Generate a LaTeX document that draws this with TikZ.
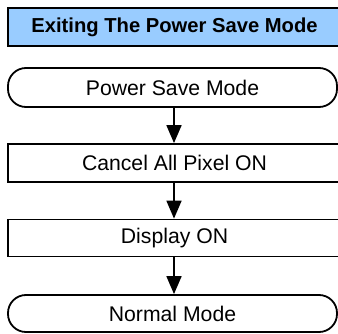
\documentclass[tikz,border=0pt]{standalone}
\usepackage{fontspec}
\setmainfont{Liberation Sans}
\usetikzlibrary{arrows.meta}
\definecolor{titleblue}{RGB}{153,204,255}
\tikzset{
  x=1pt,y=1pt,
  box/.style={draw=black,line width=1.8pt,fill=white,rectangle,inner sep=0pt,font=\fontsize{21.2}{25}\selectfont},
  term/.style={box,rounded corners=18pt},
  titlebox/.style={box,fill=titleblue,font=\fontsize{20.2}{24}\selectfont\bfseries},
  flow/.style={line width=1.8pt,-{Triangle[length=18pt,width=15pt]}}
}
\begin{document}
\begin{tikzpicture}
\useasboundingbox (0,0) rectangle (338,333);
\node[titlebox,minimum width=333pt,minimum height=38pt] (t) at (174.5,306) {Exiting The Power Save Mode};
\node[term,minimum width=329pt,minimum height=39pt] (a) at (172.5,245.5) {Power Save Mode};
\node[box,minimum width=333pt,minimum height=38pt] (b) at (174.5,170) {Cancel All Pixel ON};
\node[box,minimum width=333pt,minimum height=37pt] (c) at (174.5,95) {Display ON};
\node[term,minimum width=329pt,minimum height=37pt] (d) at (172.5,19.5) {Normal Mode};
\draw[flow] (a.south -| 174,0) -- (b.north -| 174,0);
\draw[flow] (b.south -| 174,0) -- (c.north -| 174,0);
\draw[flow] (c.south -| 174,0) -- (d.north -| 174,0);
\end{tikzpicture}
\end{document}
